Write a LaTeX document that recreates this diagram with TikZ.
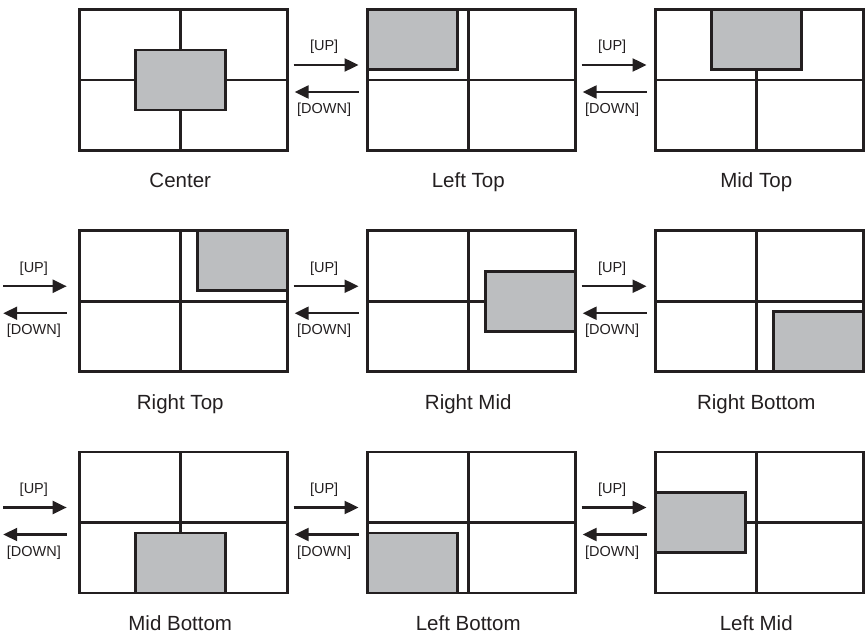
\documentclass[tikz,border=0pt]{standalone}
\usepackage{fontspec}
\setmainfont{Liberation Sans}
\usetikzlibrary{positioning,arrows.meta}
\definecolor{ink}{HTML}{231F20}
\definecolor{panel}{HTML}{BCBEC0}
\begin{document}
\begin{tikzpicture}[
  screen/.style={rectangle, draw=ink, line width=2.8pt, minimum width=208pt, minimum height=141pt, inner sep=0pt,
    path picture={\draw[ink, line width=2.8pt]
      ([xshift=-3pt]path picture bounding box.north) -- ([xshift=-3pt]path picture bounding box.south)
      (path picture bounding box.west) -- (path picture bounding box.east);}},
  win/.style={rectangle, draw=ink, fill=panel, line width=2.8pt, minimum width=90pt, minimum height=60pt, inner sep=0pt},
  caption/.style={font=\fontsize{20.5}{24}\selectfont, text=ink, inner sep=0pt, outer sep=0pt},
  key/.style={font=\fontsize{14.5}{17}\selectfont, text=ink, inner sep=0pt, outer sep=0pt},
  move/.style={-{Triangle[length=14pt,width=13pt]}, draw=ink, line width=2.2pt},
  node distance=288pt
]
\useasboundingbox (-183.25pt,80pt) rectangle (683.75pt,-556pt);

% Screens
\node (ctr) [screen] {};
\node (lefttop) [screen, right of=ctr] {};
\node (midtop) [screen, right of=lefttop] {};
\node (righttop) [screen, below of=ctr, node distance=221.25pt] {};
\node (rightmid) [screen, right of=righttop] {};
\node (rightbot) [screen, right of=rightmid] {};
\node (midbot) [screen, below of=righttop, node distance=221.25pt] {};
\node (leftbot) [screen, right of=midbot] {};
\node (leftmid) [screen, right of=leftbot] {};

% Sub windows
\node (ctrwin) [win] at ([xshift=-3pt]ctr.center) {};
\node (lefttopwin) [win, anchor=north west] at (lefttop.north west) {};
\node (midtopwin) [win, anchor=north] at ([xshift=-3pt]midtop.north) {};
\node (righttopwin) [win, anchor=north east] at (righttop.north east) {};
\node (rightmidwin) [win, anchor=east] at (rightmid.east) {};
\node (rightbotwin) [win, anchor=south east] at (rightbot.south east) {};
\node (midbotwin) [win, anchor=south] at ([xshift=-3pt]midbot.south) {};
\node (leftbotwin) [win, anchor=south west] at (leftbot.south west) {};
\node (leftmidwin) [win, anchor=west] at (leftmid.west) {};

% Captions
\node (ctrcap) [caption, below=21pt of ctr, xshift=-3pt] {Center};
\node (lefttopcap) [caption, below=21pt of lefttop, xshift=-3pt] {Left Top};
\node (midtopcap) [caption, below=21pt of midtop, xshift=-3pt] {Mid Top};
\node (righttopcap) [caption, below=21pt of righttop, xshift=-3pt] {Right Top};
\node (rightmidcap) [caption, below=21pt of rightmid, xshift=-3pt] {Right Mid};
\node (rightbotcap) [caption, below=21pt of rightbot, xshift=-3pt] {Right Bottom};
\node (midbotcap) [caption, below=21pt of midbot, xshift=-3pt] {Mid Bottom};
\node (leftbotcap) [caption, below=21pt of leftbot, xshift=-3pt] {Left Bottom};
\node (leftmidcap) [caption, below=21pt of leftmid, xshift=-3pt] {Left Mid};

% Row ends
\coordinate [left=74.6pt of righttop] (wrap2);
\coordinate [left=74.6pt of midbot] (wrap3);

% Moves
\draw[move, shorten <=5pt, shorten >=7.3pt] ([yshift=15pt]ctr.east) -- node (up1) [key, pos=0.46, above=11pt] {[UP]} ([yshift=15pt]lefttop.west);
\draw[move, shorten <=7.3pt, shorten >=6pt] ([yshift=-12pt]lefttop.west) -- node (down1) [key, pos=0.54, below=11pt] {[DOWN]} ([yshift=-12pt]ctr.east);
\draw[move, shorten <=5pt, shorten >=7.3pt] ([yshift=15pt]lefttop.east) -- node (up2) [key, pos=0.46, above=11pt] {[UP]} ([yshift=15pt]midtop.west);
\draw[move, shorten <=7.3pt, shorten >=6pt] ([yshift=-12pt]midtop.west) -- node (down2) [key, pos=0.54, below=11pt] {[DOWN]} ([yshift=-12pt]lefttop.east);
\draw[move, shorten >=11.2pt] ([yshift=15pt]wrap2) -- node (up3) [key, pos=0.41, above=11pt] {[UP]} ([yshift=15pt]righttop.west);
\draw[move, shorten <=11.2pt] ([yshift=-12pt]righttop.west) -- node (down3) [key, pos=0.59, below=11pt] {[DOWN]} ([yshift=-12pt]wrap2);
\draw[move, shorten <=5pt, shorten >=7.3pt] ([yshift=15pt]righttop.east) -- node (up4) [key, pos=0.46, above=11pt] {[UP]} ([yshift=15pt]rightmid.west);
\draw[move, shorten <=7.3pt, shorten >=6pt] ([yshift=-12pt]rightmid.west) -- node (down4) [key, pos=0.54, below=11pt] {[DOWN]} ([yshift=-12pt]righttop.east);
\draw[move, shorten <=5pt, shorten >=7.3pt] ([yshift=15pt]rightmid.east) -- node (up5) [key, pos=0.46, above=11pt] {[UP]} ([yshift=15pt]rightbot.west);
\draw[move, shorten <=7.3pt, shorten >=6pt] ([yshift=-12pt]rightbot.west) -- node (down5) [key, pos=0.54, below=11pt] {[DOWN]} ([yshift=-12pt]rightmid.east);
\draw[move, shorten >=11.2pt] ([yshift=15pt]wrap3) -- node (up6) [key, pos=0.41, above=11pt] {[UP]} ([yshift=15pt]midbot.west);
\draw[move, shorten <=11.2pt] ([yshift=-12pt]midbot.west) -- node (down6) [key, pos=0.59, below=11pt] {[DOWN]} ([yshift=-12pt]wrap3);
\draw[move, shorten <=5pt, shorten >=7.3pt] ([yshift=15pt]midbot.east) -- node (up7) [key, pos=0.46, above=11pt] {[UP]} ([yshift=15pt]leftbot.west);
\draw[move, shorten <=7.3pt, shorten >=6pt] ([yshift=-12pt]leftbot.west) -- node (down7) [key, pos=0.54, below=11pt] {[DOWN]} ([yshift=-12pt]midbot.east);
\draw[move, shorten <=5pt, shorten >=7.3pt] ([yshift=15pt]leftbot.east) -- node (up8) [key, pos=0.46, above=11pt] {[UP]} ([yshift=15pt]leftmid.west);
\draw[move, shorten <=7.3pt, shorten >=6pt] ([yshift=-12pt]leftmid.west) -- node (down8) [key, pos=0.54, below=11pt] {[DOWN]} ([yshift=-12pt]leftbot.east);

\end{tikzpicture}
\end{document}
